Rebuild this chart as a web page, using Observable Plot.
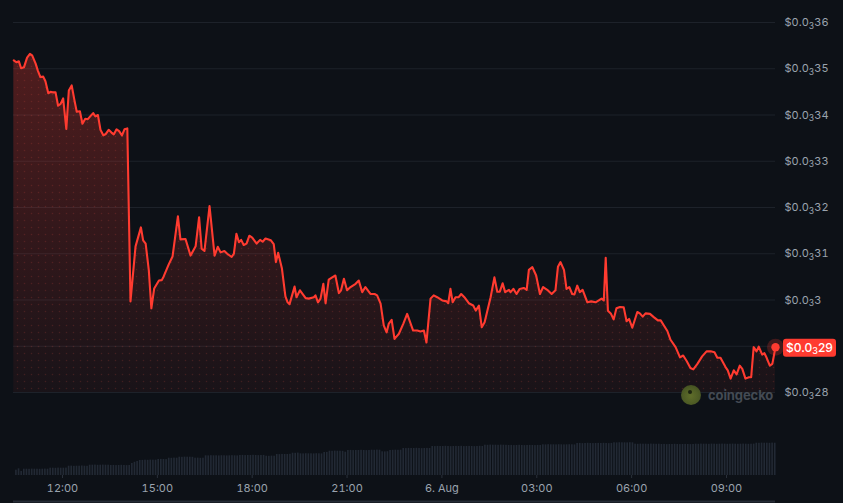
<!DOCTYPE html>
<html><head><meta charset="utf-8">
<script src="https://cdn.jsdelivr.net/npm/d3@7"></script>
<script src="https://cdn.jsdelivr.net/npm/@observablehq/plot@0.6"></script>
<style>
html,body{margin:0;padding:0;background:#0d1117;}
#wrap{position:relative;width:843px;height:503px;background:#0d1117;overflow:hidden;font-family:Inter,"Noto Sans",sans-serif;}
#wrap svg{position:absolute;left:0;top:0;}
#logo{position:absolute;left:681px;top:385px;display:flex;align-items:center;gap:7px;}
#logo .ic{width:20px;height:20px;border-radius:50%;background:radial-gradient(circle at 50% 55%,#5f6d2a 0,#4d5b25 55%,#39441c 100%);position:relative;}
#logo .ic:after{content:"";position:absolute;left:7px;top:5px;width:4px;height:4px;border-radius:50%;background:#1d2410;}
#logo .tx{font-family:Inter,"Noto Sans",sans-serif;font-weight:700;font-size:13px;color:#444a53;letter-spacing:-0.1px;}
</style></head><body>
<div id="wrap"><div id="logo"><div class="ic"></div><div class="tx">coingecko</div></div></div>
<script>
// hours since 00:00, 5 Aug
const hours = [
10.46,10.54,10.62,10.69,10.78,10.88,10.97,11.04,11.15,11.22,
11.30,11.39,11.46,11.55,11.62,11.69,11.78,11.86,11.94,12.02,
12.12,12.20,12.29,12.38,12.45,12.55,12.63,12.72,12.80,12.89,
12.97,13.04,13.12,13.20,13.29,13.37,13.46,13.55,13.62,13.71,
13.79,13.88,13.96,14.05,14.15,14.31,14.48,14.55,14.63,14.73,
14.81,14.90,15.05,15.14,15.20,15.36,15.48,15.65,15.73,15.89,
16.05,16.21,16.32,16.40,16.49,16.65,16.81,16.91,17.00,17.12,
17.21,17.35,17.42,17.50,17.58,17.65,17.73,17.82,17.91,18.00,
18.14,18.25,18.33,18.42,18.59,18.68,18.75,18.82,18.94,19.05,
19.12,19.18,19.34,19.40,19.51,19.69,19.79,19.95,20.00,20.08,
20.16,20.25,20.32,20.42,20.53,20.63,20.74,20.81,20.90,21.00,
21.11,21.27,21.37,21.48,21.58,21.74,21.87,21.95,22.06,22.16,
22.25,22.32,22.41,22.50,22.64,22.78,22.90,23.09,23.22,23.32,
23.43,23.51,23.64,23.74,23.85,24.01,24.15,24.20,24.27,24.34,
24.43,24.53,24.61,24.71,24.85,24.99,25.07,25.17,25.26,25.35,
25.54,25.66,25.75,25.83,25.92,26.00,26.12,26.17,26.26,26.36,
26.46,26.59,26.68,26.75,26.86,26.98,27.10,27.20,27.33,27.47,
27.59,27.67,27.75,27.86,27.94,28.03,28.12,28.19,28.28,28.36,
28.45,28.60,28.72,28.86,28.96,29.05,29.12,29.18,29.25,29.34,
29.43,29.52,29.63,29.75,29.84,29.92,30.02,30.18,30.26,30.35,
30.44,30.58,30.70,30.83,30.92,31.02,31.13,31.23,31.39,31.53,
31.63,31.74,31.86,31.95,32.08,32.23,32.37,32.50,32.62,32.71,
32.81,32.97,33.04,33.13,33.23,33.32,33.42,33.50,33.60,33.71,
33.78,33.86,33.95,34.02,34.13,34.20,34.27,34.37,34.45,34.55];

const price = [
3.518e-4,3.514e-4,3.516e-4,3.501e-4,3.503e-4,3.524e-4,3.532e-4,3.529e-4,3.511e-4,3.496e-4,
3.482e-4,3.483e-4,3.473e-4,3.447e-4,3.450e-4,3.449e-4,3.449e-4,3.420e-4,3.424e-4,3.436e-4,
3.370e-4,3.453e-4,3.464e-4,3.431e-4,3.407e-4,3.408e-4,3.381e-4,3.392e-4,3.391e-4,3.398e-4,
3.404e-4,3.397e-4,3.400e-4,3.368e-4,3.356e-4,3.359e-4,3.368e-4,3.362e-4,3.358e-4,3.369e-4,
3.365e-4,3.356e-4,3.369e-4,3.371e-4,2.997e-4,3.116e-4,3.157e-4,3.129e-4,3.122e-4,3.064e-4,
2.982e-4,3.025e-4,3.042e-4,3.043e-4,3.051e-4,3.077e-4,3.094e-4,3.181e-4,3.131e-4,3.132e-4,
3.096e-4,3.116e-4,3.179e-4,3.111e-4,3.106e-4,3.203e-4,3.096e-4,3.115e-4,3.103e-4,3.106e-4,
3.100e-4,3.093e-4,3.100e-4,3.143e-4,3.125e-4,3.130e-4,3.119e-4,3.122e-4,3.139e-4,3.135e-4,
3.122e-4,3.130e-4,3.126e-4,3.133e-4,3.129e-4,3.121e-4,3.082e-4,3.102e-4,3.068e-4,3.008e-4,
2.995e-4,2.991e-4,3.029e-4,3.006e-4,3.021e-4,3.004e-4,3.003e-4,3.006e-4,3.010e-4,2.995e-4,
3.003e-4,3.035e-4,2.993e-4,3.044e-4,3.049e-4,3.053e-4,3.015e-4,3.021e-4,3.046e-4,3.021e-4,
3.028e-4,3.035e-4,3.042e-4,3.017e-4,3.028e-4,3.013e-4,3.013e-4,3.010e-4,2.992e-4,2.945e-4,
2.930e-4,2.949e-4,2.957e-4,2.916e-4,2.927e-4,2.949e-4,2.970e-4,2.934e-4,2.934e-4,2.932e-4,
2.934e-4,2.908e-4,3.003e-4,3.010e-4,3.006e-4,2.999e-4,2.997e-4,2.993e-4,3.024e-4,2.995e-4,
3.006e-4,3.006e-4,3.013e-4,3.006e-4,2.993e-4,2.988e-4,2.977e-4,2.988e-4,2.941e-4,2.952e-4,
3.006e-4,3.049e-4,3.018e-4,3.018e-4,3.036e-4,3.017e-4,3.022e-4,3.017e-4,3.024e-4,3.013e-4,
3.024e-4,3.026e-4,3.022e-4,3.065e-4,3.071e-4,3.053e-4,3.013e-4,3.028e-4,3.022e-4,3.013e-4,
3.021e-4,3.072e-4,3.082e-4,3.065e-4,3.024e-4,3.028e-4,3.013e-4,3.012e-4,3.031e-4,3.017e-4,
3.022e-4,2.995e-4,2.997e-4,2.995e-4,2.999e-4,3.003e-4,2.999e-4,3.091e-4,2.977e-4,2.971e-4,
2.958e-4,2.982e-4,2.985e-4,2.984e-4,2.954e-4,2.959e-4,2.940e-4,2.974e-4,2.971e-4,2.964e-4,
2.971e-4,2.970e-4,2.963e-4,2.956e-4,2.956e-4,2.945e-4,2.933e-4,2.914e-4,2.898e-4,2.876e-4,
2.880e-4,2.868e-4,2.853e-4,2.850e-4,2.862e-4,2.878e-4,2.889e-4,2.889e-4,2.887e-4,2.875e-4,
2.875e-4,2.855e-4,2.848e-4,2.830e-4,2.848e-4,2.839e-4,2.858e-4,2.851e-4,2.830e-4,2.833e-4,
2.833e-4,2.898e-4,2.889e-4,2.899e-4,2.882e-4,2.885e-4,2.875e-4,2.858e-4,2.862e-4,2.898e-4];

// volume, one bar per 5 minutes starting 10:30 on 5 Aug (arbitrary units)
const volumeStartHour = 10.5;
const volume = [53,67,40,
63,63,62,64,63,63,62,63,64,63,
73,73,72,74,73,73,74,
93,94,92,93,93,95,93,92,
103,103,104,102,103,104,103,103,
100,101,99,100,102,100,99,100,
120,132,140,
150,151,
153,152,154,153,153,
160,161,160,159,
173,172,174,173,
183,182,184,183,183,182,
173,174,172,173,
197,196,198,197,197,196,198,197,196,197,198,197,196,
200,201,199,200,200,202,200,199,200,201,
193,192,194,193,
210,209,211,210,210,212,
223,222,224,
217,216,218,217,217,216,218,217,216,
230,231,
243,242,244,243,243,242,
233,
250,251,249,250,250,252,250,249,250,
253,252,254,253,
237,236,238,
250,252,253,252,253,
270,269,271,270,270,272,270,269,270,271,270,
290,289,291,290,290,292,290,289,290,291,290,292,289,290,291,290,289,290,292,290,
303,302,304,303,303,302,304,303,302,
300,301,299,300,302,300,299,300,301,300,299,301,300,
307,306,308,307,307,306,308,307,306,307,308,307,306,
320,321,319,320,322,320,319,320,321,320,322,320,319,321,
327,326,328,327,327,326,328,327,
313,312,314,313,313,312,314,313,312,313,
310,311,309,310,310,312,310,309,310,311,310,309,310,
313,312,314,313,313,312,314,313,312,313,314,313,312,313,314,313,312,313,314,313,312,313,314,
323,322,324,323,323,322,324,323];

const yTicks = [2.8e-4,2.9e-4,3.0e-4,3.1e-4,3.2e-4,3.3e-4,3.4e-4,3.5e-4,3.6e-4];
const yTickLabels = ["$0.0₃28","","$0.0₃3","$0.0₃31","$0.0₃32","$0.0₃33","$0.0₃34","$0.0₃35","$0.0₃36"];
const xTickHours = [12,15,18,21,24,27,30,33];
const xTickLabels = ["12:00","15:00","18:00","21:00","6. Aug","03:00","06:00","09:00"];
const domainHours = [10.45,34.55];
const lastLabelText = "$0.0₃29";

const base = new Date(2024,7,5,0,0,0);
const toDate = h => new Date(base.getTime() + h*3600e3);
const data = hours.map((h,i) => ({t: toDate(h), p: price[i]}));
const last = data[data.length-1];
const vol = volume.map((v,i) => ({t1: toDate(volumeStartHour + i/12), t2: toDate(volumeStartHour + (i+1)/12), v}));
const xDomain = domainHours.map(toDate);
const xTicks = xTickHours.map(toDate);

const ns = "http://www.w3.org/2000/svg";
function el(name, attrs, text){const e=document.createElementNS(ns,name);for(const k in attrs)e.setAttribute(k,attrs[k]);if(text!=null)e.textContent=text;return e;}

// render "₃" as a real smaller, lowered subscript digit
function subscriptify(textEl, subSize, shift){
  const s = textEl.textContent;
  const k = s.indexOf("₃");
  if (k < 0) return;
  textEl.textContent = "";
  textEl.appendChild(document.createTextNode(s.slice(0,k)));
  textEl.appendChild(el("tspan",{"font-size":subSize, dy:shift},"3"));
  textEl.appendChild(el("tspan",{dy:-shift},s.slice(k+1)));
}

function lastLabel(index, scales){
  const x = scales.x(last.t), y = scales.y(last.p);
  const g = el("g",{});
  g.appendChild(el("rect",{x:x+8,y:y-8,width:53,height:18,rx:3,fill:"#ff3b30"}));
  const t = el("text",{x:x+34.5,y:y+5.3,"text-anchor":"middle",fill:"#ffffff","font-size":12,"font-weight":500,"font-family":"Inter, 'Noto Sans', sans-serif"},lastLabelText);
  subscriptify(t, 9, 2.5);
  g.appendChild(t);
  return g;
}

const common = {
  width: 843, height: 503, marginLeft: 13, marginRight: 68,
  style: {background: "transparent", color: "#9aa3ae", fontFamily: "Inter, 'Noto Sans', sans-serif", fontSize: "11px", overflow: "visible"}
};

const yMin = yTicks[0];
const main = Plot.plot({
  ...common,
  marginTop: 22, marginBottom: 111,
  x: {type: "time", domain: xDomain, axis: null, label: null},
  y: {domain: [yTicks[0], yTicks[yTicks.length-1]], label: null},
  marks: [
    Plot.ruleY(yTicks, {stroke: "#1d222a", strokeWidth: 1}),
    Plot.areaY(data, {x: "t", y1: yMin, y2: "p", fill: "url(#redGrad)"}),
    Plot.areaY(data, {x: "t", y1: yMin, y2: "p", fill: "url(#dotPat)"}),
    Plot.lineY(data, {x: "t", y: "p", stroke: "#ff3b30", strokeWidth: 2.1, strokeLinejoin: "round"}),
    Plot.dot([last], {x: "t", y: "p", r: 8.5, fill: "#ff3b30", fillOpacity: 0.22, stroke: "none"}),
    Plot.dot([last], {x: "t", y: "p", r: 4.2, fill: "#ff3b30", stroke: "none"}),
    Plot.axisY({anchor: "right", label: null, ticks: yTicks, tickSize: 0, tickPadding: 9, fill: "#9aa3ae",
      tickFormat: d => { const i = yTicks.findIndex(t => Math.abs(t-d) < 1e-9); return i >= 0 ? yTickLabels[i] : ""; }}),
    lastLabel
  ]
});
main.insertAdjacentHTML("afterbegin",
  '<defs><linearGradient id="redGrad" x1="0" y1="0" x2="0" y2="1">' +
  '<stop offset="0" stop-color="#ff3b30" stop-opacity="0.28"/>' +
  '<stop offset="1" stop-color="#ff3b30" stop-opacity="0.05"/></linearGradient>' +
  '<pattern id="dotPat" width="7" height="7" patternUnits="userSpaceOnUse">' +
  '<circle cx="3.5" cy="3.5" r="0.75" fill="#ff5a4a" fill-opacity="0.16"/></pattern></defs>');
main.querySelectorAll("text").forEach(t => { if (t.childElementCount === 0) subscriptify(t, 8.5, 2.5); });

function bottomLine(index, scales, values, dims){
  return el("line",{x1:dims.marginLeft,x2:dims.width-dims.marginRight,y1:dims.height-1.5,y2:dims.height-1.5,stroke:"#262c36","stroke-width":2});
}

const volPlot = Plot.plot({
  ...common,
  marginTop: 442, marginBottom: 28,
  x: {type: "time", domain: xDomain, label: null},
  y: {domain: [0, 330], axis: null, label: null},
  marks: [
    Plot.rectY(vol, {x1: "t1", x2: "t2", y: "v", fill: "#222934", insetLeft: 0.5, insetRight: 0.5}),
    Plot.axisX({ticks: xTicks, label: null, tickSize: 3, tickPadding: 6, stroke: "#2a303a", fill: "#9aa3ae",
      tickFormat: d => { const i = xTicks.findIndex(t => t.getTime() === d.getTime()); return i >= 0 ? xTickLabels[i] : ""; }}),
    bottomLine
  ]
});

const wrap = document.getElementById("wrap");
wrap.insertBefore(volPlot, wrap.firstChild);
wrap.insertBefore(main, wrap.firstChild);
</script>
</body></html>
